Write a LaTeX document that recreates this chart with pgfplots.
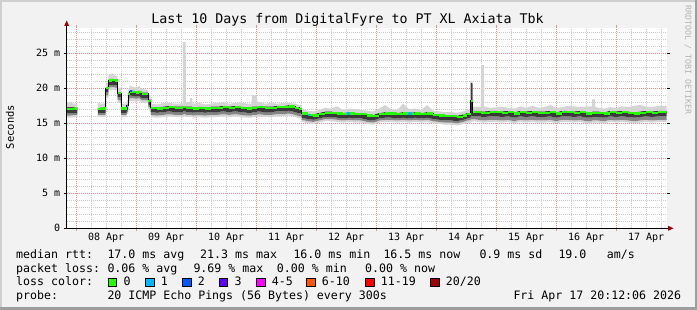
\documentclass[border=0pt]{standalone}
\usepackage{pgfplots}
\pgfplotsset{compat=1.18}
\usepackage{pgfplotstable}
\usepackage{fontspec}
\setmainfont{DejaVu Sans Mono}
\setmonofont{DejaVu Sans Mono}
\definecolor{bg}{HTML}{F2F2F2}
\definecolor{shadea}{HTML}{CFCFCF}
\definecolor{shadeb}{HTML}{9E9E9E}
\definecolor{mgrid}{HTML}{E89090}
\definecolor{ngrid}{HTML}{CCCCCC}
\definecolor{arrowred}{HTML}{A00000}
\definecolor{smokeL}{HTML}{D4D4D4}
\definecolor{smokeM}{HTML}{858585}
\definecolor{smokeD}{HTML}{3A3A3A}
\definecolor{loss0}{HTML}{26FF00}
\definecolor{loss1}{HTML}{00B8FF}
\definecolor{loss2}{HTML}{0059FF}
\definecolor{loss3}{HTML}{5E00FF}
\definecolor{loss4}{HTML}{FF00FF}
\definecolor{loss6}{HTML}{FF5500}
\definecolor{loss11}{HTML}{FF0000}
\definecolor{loss20}{HTML}{A10000}
\definecolor{wmark}{HTML}{B4B4B4}

\pgfdeclarelayer{picbg}
\pgfdeclarelayer{axis background}
\pgfdeclarelayer{axis grid}
\pgfdeclarelayer{axis ticks}
\pgfdeclarelayer{axis lines}
\pgfdeclarelayer{axis tick labels}
\pgfdeclarelayer{pre main}
\pgfdeclarelayer{axis descriptions}
\pgfdeclarelayer{axis foreground}
\pgfplotsset{
  layers/mylayers/.define layer set={picbg,axis background,axis grid,axis ticks,axis lines,axis tick labels,pre main,main,axis descriptions,axis foreground}{},
}

% median (step values)
\pgfplotstableread{
d med
-0.158 17.0
-0.10 17.0
-0.04 17.1
0.018 17.1
}\medA

\pgfplotstableread{
d med
0.36 17.0
0.42 17.1
0.495 20.0
0.54 21.1
0.60 21.2
0.65 21.1
0.69 19.3
0.75 17.1
0.845 17.5
0.87 19.2
0.89 19.5
0.95 19.5
1.00 19.4
1.05 19.5
1.095 19.2
1.15 19.2
1.205 18.2
1.245 17.2
1.35 17.1
1.45 17.2
1.55 17.3
1.65 17.2
1.78 17.3
1.83 17.2
1.90 17.2
1.94 17.1
2.05 17.2
2.15 17.1
2.25 17.2
2.35 17.2
2.45 17.3
2.55 17.2
2.65 17.3
2.75 17.2
2.85 17.1
2.93 17.2
3.02 17.3
3.15 17.2
3.25 17.2
3.35 17.3
3.45 17.3
3.55 17.4
3.65 17.2
3.72 17.0
3.76 16.4
3.86 16.2
3.95 16.1
4.05 16.3
4.15 16.5
4.25 16.5
4.35 16.4
4.45 16.3
4.55 16.4
4.65 16.3
4.75 16.3
4.85 16.1
4.95 16.0
5.05 16.3
5.15 16.4
5.25 16.4
5.35 16.3
5.45 16.4
5.55 16.3
5.65 16.4
5.75 16.3
5.85 16.4
5.95 16.2
6.05 16.1
6.15 16.0
6.25 16.0
6.35 15.9
6.45 16.1
6.52 16.3
6.575 18.2
6.61 16.6
6.70 16.6
6.75 16.5
6.80 16.5
6.90 16.6
7.00 16.6
7.10 16.5
7.20 16.6
7.30 16.4
7.40 16.6
7.50 16.5
7.60 16.6
7.70 16.5
7.80 16.5
7.90 16.6
8.00 16.4
8.10 16.6
8.20 16.6
8.30 16.5
8.40 16.6
8.50 16.4
8.60 16.5
8.65 16.5
8.70 16.5
8.80 16.4
8.90 16.6
9.00 16.5
9.10 16.6
9.20 16.5
9.30 16.4
9.40 16.5
9.50 16.6
9.60 16.5
9.70 16.6
9.842 16.6
}\medB

% smoke bands: lo (bottom), q1, q2 (dark band start), up (dark band top), hi (top)
\pgfplotstableread{
d lo q1 q2 up hi
-0.158 15.8 16.1 16.4 17.3 17.9
-0.10 15.8 16.1 16.4 17.3 18.0
-0.04 15.9 16.2 16.4 17.3 17.8
0.018 15.9 16.2 16.4 17.3 17.8
}\smokeA

\pgfplotstableread{
d lo q1 q2 up hi
0.36 15.9 16.2 16.5 17.2 17.9
0.42 15.9 16.2 16.5 17.3 17.8
0.49 15.9 16.2 16.5 17.3 17.8
0.495 18.6 19.0 19.4 20.2 20.8
0.535 18.6 19.0 19.4 20.2 20.8
0.54 19.7 20.1 20.5 21.3 22.0
0.60 19.8 20.2 20.5 21.4 22.1
0.65 19.7 20.1 20.4 21.3 21.8
0.685 19.7 20.1 20.4 21.3 21.8
0.69 17.9 18.3 18.7 19.5 20.1
0.745 17.9 18.3 18.7 19.5 20.1
0.75 15.9 16.2 16.5 17.3 17.8
0.84 15.9 16.2 16.5 17.3 17.8
0.845 16.3 16.6 16.9 17.7 18.3
0.865 16.3 16.6 16.9 17.7 18.3
0.87 17.8 18.2 18.6 19.4 20.0
0.885 17.8 18.2 18.6 19.4 20.0
0.89 18.2 18.6 19.0 19.7 20.4
0.95 18.2 18.6 18.9 19.7 20.2
1.00 18.1 18.5 18.8 19.6 20.1
1.05 18.2 18.6 18.9 19.7 20.3
1.095 17.9 18.3 18.6 19.4 19.9
1.15 17.9 18.3 18.6 19.4 19.8
1.20 17.9 18.3 18.6 19.4 19.8
1.205 17.0 17.3 17.6 18.4 19.0
1.24 17.0 17.3 17.6 18.4 19.0
1.245 15.9 16.2 16.6 17.4 17.8
1.35 15.8 16.1 16.5 17.3 17.7
1.45 15.9 16.2 16.6 17.4 17.9
1.55 16.0 16.3 16.7 17.5 17.9
1.65 15.9 16.2 16.6 17.4 17.8
1.775 15.9 16.2 16.6 17.4 17.8
1.78 16.0 16.3 16.7 17.5 26.6
1.825 16.0 16.3 16.7 17.5 26.6
1.83 15.9 16.2 16.6 17.4 18.0
1.895 15.9 16.2 16.6 17.4 18.0
1.90 15.9 16.2 16.6 17.4 18.6
1.935 15.9 16.2 16.6 17.4 18.6
1.94 15.8 16.1 16.5 17.3 17.8
2.05 15.9 16.2 16.6 17.4 17.9
2.15 15.8 16.1 16.5 17.3 17.7
2.25 15.9 16.2 16.6 17.4 17.8
2.35 15.9 16.2 16.6 17.4 17.9
2.45 16.0 16.3 16.7 17.5 18.0
2.55 15.9 16.2 16.6 17.4 17.8
2.65 16.0 16.3 16.7 17.5 17.9
2.75 15.9 16.2 16.6 17.4 18.0
2.85 15.8 16.1 16.5 17.3 17.8
2.925 15.8 16.1 16.5 17.3 17.8
2.93 15.9 16.2 16.6 17.4 19.0
3.015 15.9 16.2 16.6 17.4 19.0
3.02 16.0 16.3 16.7 17.5 18.1
3.15 15.9 16.2 16.6 17.4 17.8
3.25 15.9 16.2 16.6 17.4 17.9
3.35 16.0 16.3 16.7 17.5 17.8
3.45 16.0 16.3 16.7 17.5 17.9
3.55 16.1 16.4 16.8 17.6 17.9
3.65 15.9 16.2 16.6 17.4 17.8
3.72 15.7 16.0 16.4 17.2 17.6
3.755 15.7 16.0 16.4 17.2 17.6
3.76 15.2 15.5 15.8 16.6 17.0
3.86 15.0 15.3 15.6 16.4 16.8
3.95 14.9 15.2 15.5 16.3 16.7
4.05 15.1 15.4 15.7 16.5 16.9
4.15 15.3 15.6 15.9 16.7 17.2
4.25 15.3 15.6 15.9 16.7 17.1
4.35 15.2 15.5 15.8 16.6 17.4
4.45 15.1 15.4 15.7 16.5 16.9
4.55 15.2 15.5 15.8 16.6 17.1
4.65 15.1 15.4 15.7 16.5 17.0
4.75 15.1 15.4 15.7 16.5 16.9
4.85 14.9 15.2 15.5 16.3 16.8
4.95 14.8 15.1 15.4 16.2 16.7
5.05 15.1 15.4 15.7 16.5 17.1
5.15 15.2 15.5 15.8 16.6 17.6
5.25 15.2 15.5 15.8 16.6 17.0
5.35 15.1 15.4 15.7 16.5 16.9
5.45 15.2 15.5 15.8 16.6 17.8
5.55 15.1 15.4 15.7 16.5 17.0
5.65 15.2 15.5 15.8 16.6 17.1
5.75 15.1 15.4 15.7 16.5 16.9
5.85 15.2 15.5 15.8 16.6 17.6
5.95 15.0 15.3 15.6 16.4 16.8
6.05 14.9 15.2 15.5 16.3 16.7
6.15 14.8 15.1 15.4 16.2 16.6
6.25 14.8 15.1 15.4 16.2 16.6
6.35 14.7 15.0 15.3 16.1 16.5
6.45 14.9 15.2 15.5 16.3 16.7
6.52 15.1 15.4 15.7 16.5 16.9
6.57 15.1 15.4 15.7 16.5 16.9
6.575 15.2 15.6 16.0 20.8 21.0
6.605 15.2 15.6 16.0 20.8 21.0
6.61 15.3 15.6 16.0 16.8 17.4
6.70 15.2 15.5 16.0 16.8 17.3
6.745 15.2 15.5 16.0 16.8 17.3
6.75 15.1 15.4 15.9 16.7 23.3
6.795 15.1 15.4 15.9 16.7 23.3
6.80 15.1 15.4 15.9 16.7 17.4
6.90 15.2 15.5 16.0 16.8 17.2
7.00 15.2 15.5 16.0 16.8 17.3
7.10 15.1 15.4 15.9 16.7 17.4
7.20 15.2 15.5 16.0 16.8 17.2
7.30 15.0 15.3 15.8 16.6 17.1
7.40 15.2 15.5 16.0 16.8 17.4
7.50 15.1 15.4 15.9 16.7 17.2
7.60 15.2 15.5 16.0 16.8 17.5
7.70 15.1 15.4 15.9 16.7 17.2
7.80 15.1 15.4 15.9 16.7 17.3
7.90 15.2 15.5 16.0 16.8 17.6
8.00 15.0 15.3 15.8 16.6 17.2
8.10 15.2 15.5 16.0 16.8 17.3
8.20 15.2 15.5 16.0 16.8 17.5
8.30 15.1 15.4 15.9 16.7 17.4
8.40 15.2 15.5 16.0 16.8 17.3
8.50 15.0 15.3 15.8 16.6 17.4
8.595 15.0 15.3 15.8 16.6 17.4
8.60 15.1 15.4 15.9 16.7 18.4
8.645 15.1 15.4 15.9 16.7 18.4
8.65 15.1 15.4 15.9 16.7 17.4
8.70 15.1 15.4 15.9 16.7 17.2
8.80 15.0 15.3 15.8 16.6 17.1
8.90 15.2 15.5 16.0 16.8 17.3
9.00 15.1 15.4 15.9 16.7 17.2
9.10 15.2 15.5 16.0 16.8 17.4
9.20 15.1 15.4 15.9 16.7 17.3
9.30 15.0 15.3 15.8 16.6 17.5
9.40 15.1 15.4 15.9 16.7 17.6
9.50 15.2 15.5 16.0 16.8 17.4
9.60 15.1 15.4 15.9 16.7 17.3
9.70 15.2 15.5 16.0 16.8 17.5
9.842 15.2 15.5 16.0 16.8 17.5
}\smokeB

\newcommand\lgf{\fontsize{11.6pt}{13pt}\selectfont}

\begin{document}
\begin{tikzpicture}
\pgfsetlayers{picbg,axis background,axis grid,axis ticks,axis lines,axis tick labels,pre main,main,axis descriptions,axis foreground}
\begin{pgfonlayer}{picbg}
\fill[bg] (0pt,0pt) rectangle (697pt,310pt);
\fill[shadea] (0pt,0pt) rectangle (2pt,310pt);
\fill[shadea] (0pt,308pt) rectangle (697pt,310pt);
\fill[shadeb] (0pt,0pt) rectangle (697pt,2.5pt);
\fill[shadeb] (694.5pt,0pt) rectangle (697pt,310pt);
\end{pgfonlayer}

\begin{axis}[
  set layers=mylayers,
  at={(66.7pt,81.7pt)}, anchor=south west,
  scale only axis, width=600pt, height=200pt,
  xmin=-0.158, xmax=9.842, ymin=0, ymax=28.571,
  axis background/.style={fill=white},
  axis line style={draw=none},
  xtick={0,1,2,3,4,5,6,7,8,9}, xticklabels={},
  minor xtick={0.25,0.5,0.75,1.25,1.5,1.75,2.25,2.5,2.75,3.25,3.5,3.75,4.25,4.5,4.75,5.25,5.5,5.75,6.25,6.5,6.75,7.25,7.5,7.75,8.25,8.5,8.75,9.25,9.5,9.75},
  ytick={0,5,10,15,20,25}, yticklabels={0,5 m,10 m,15 m,20 m,25 m},
  minor ytick={1,2,3,4,6,7,8,9,11,12,13,14,16,17,18,19,21,22,23,24,26,27,28},
  grid=both,
  major grid style={draw=mgrid, line width=0.8pt, dash pattern=on 1pt off 1pt},
  minor grid style={draw=ngrid, line width=0.8pt, dash pattern=on 1pt off 1pt},
  tick align=outside, major tick length=3pt, minor tick length=0pt,
  xtick style={draw=mgrid, line width=0.8pt},
  ytick style={draw=black, line width=0.8pt},
  extra x ticks={0.5,1.5,2.5,3.5,4.5,5.5,6.5,7.5,8.5,9.5},
  extra x tick labels={08 Apr,09 Apr,10 Apr,11 Apr,12 Apr,13 Apr,14 Apr,15 Apr,16 Apr,17 Apr},
  extra x tick style={grid=none, major tick length=0pt, xticklabel style={yshift=-1.5pt}},
  ticklabel style={font=\fontsize{10pt}{12pt}\selectfont, text=black},
]
% smoke as stacked bands (main block)
\addplot[stack plots=y, draw=none, forget plot] table[x=d,y=lo]{\smokeB};
\addplot[stack plots=y, fill=smokeL, draw=none] table[x=d,y expr=\thisrow{q1}-\thisrow{lo}]{\smokeB} \closedcycle;
\addplot[stack plots=y, fill=smokeM, draw=none] table[x=d,y expr=\thisrow{q2}-\thisrow{q1}]{\smokeB} \closedcycle;
\addplot[stack plots=y, fill=smokeD, draw=none] table[x=d,y expr=\thisrow{up}-\thisrow{q2}]{\smokeB} \closedcycle;
\addplot[stack plots=y, fill=smokeL, draw=none] table[x=d,y expr=\thisrow{hi}-\thisrow{up}]{\smokeB} \closedcycle;
% median
\addplot[black, line width=0.8pt, const plot mark left] table[x=d,y=med]{\medB};
\addplot[loss0, line width=2.4pt, jump mark left] table[x=d,y=med]{\medB};
\addplot[loss1, line width=2.4pt] coordinates {(0.845,17.5) (0.87,17.5)};
\addplot[loss2, line width=2.4pt] coordinates {(0.905,19.6) (0.935,19.6)};
\addplot[loss1, line width=2.4pt] coordinates {(3.86,16.2) (3.9,16.2)};
\addplot[loss1, line width=2.4pt] coordinates {(4.51,16.4) (4.56,16.4)};
\addplot[loss1, line width=2.4pt] coordinates {(5.53,16.4) (5.60,16.4)};
\end{axis}

% first short block, in an overlaid axis of the same geometry
\begin{axis}[
  at={(66.7pt,81.7pt)}, anchor=south west,
  scale only axis, width=600pt, height=200pt,
  xmin=-0.158, xmax=9.842, ymin=0, ymax=28.571,
  hide axis,
]
\addplot[stack plots=y, draw=none, forget plot] table[x=d,y=lo]{\smokeA};
\addplot[stack plots=y, fill=smokeL, draw=none] table[x=d,y expr=\thisrow{q1}-\thisrow{lo}]{\smokeA} \closedcycle;
\addplot[stack plots=y, fill=smokeM, draw=none] table[x=d,y expr=\thisrow{q2}-\thisrow{q1}]{\smokeA} \closedcycle;
\addplot[stack plots=y, fill=smokeD, draw=none] table[x=d,y expr=\thisrow{up}-\thisrow{q2}]{\smokeA} \closedcycle;
\addplot[stack plots=y, fill=smokeL, draw=none] table[x=d,y expr=\thisrow{hi}-\thisrow{up}]{\smokeA} \closedcycle;
\addplot[black, line width=0.8pt, const plot mark left] table[x=d,y=med]{\medA};
\addplot[loss0, line width=2.4pt, jump mark left] table[x=d,y=med]{\medA};
\end{axis}

% axis lines with arrows
\draw[black, line width=1pt] (66.7pt,81.7pt) -- (669pt,81.7pt);
\fill[arrowred] (668pt,84.2pt) -- (668pt,79.2pt) -- (673.5pt,81.7pt) -- cycle;
\draw[black, line width=1pt] (66.7pt,81.7pt) -- (66.7pt,285pt);
\fill[arrowred] (64.2pt,284pt) -- (69.2pt,284pt) -- (66.7pt,289.5pt) -- cycle;

% title and labels
\node[anchor=base, inner sep=0pt, font=\fontsize{13.3pt}{15pt}\selectfont] at (347.5pt,286pt) {Last 10 Days from DigitalFyre to PT XL Axiata Tbk};
\node[rotate=90, inner sep=0pt, font=\fontsize{10.5pt}{12pt}\selectfont] at (10pt,183pt) {Seconds};
\node[rotate=-90, inner sep=0pt, text=wmark, font=\fontsize{8.3pt}{10pt}\selectfont] at (688pt,250pt) {RRDTOOL / TOBI OETIKER};

% legend rows
\begin{scope}[every node/.style={anchor=base west, inner sep=0pt, font=\lgf}]
\node at (16pt,51.5pt) {median rtt:};
\node at (107.3pt,51.5pt) {17.0 ms avg};
\node at (200pt,51.5pt) {21.3 ms max};
\node at (293.3pt,51.5pt) {16.0 ms min};
\node at (383.3pt,51.5pt) {16.5 ms now};
\node at (479.3pt,51.5pt) {0.9 ms sd};
\node at (558.3pt,51.5pt) {19.0};
\node at (606.7pt,51.5pt) {am/s};
\node at (16pt,37.8pt) {packet loss:};
\node at (107.3pt,37.8pt) {0.06 \% avg};
\node at (193.3pt,37.8pt) {9.69 \% max};
\node at (276.7pt,37.8pt) {0.00 \% min};
\node at (365pt,37.8pt) {0.00 \% now};
\node at (16pt,24pt) {loss color:};
\node at (123.3pt,24pt) {0};
\node at (160.7pt,24pt) {1};
\node at (197.7pt,24pt) {2};
\node at (234.3pt,24pt) {3};
\node at (271.7pt,24pt) {4-5};
\node at (321.7pt,24pt) {6-10};
\node at (380.7pt,24pt) {11-19};
\node at (445.7pt,24pt) {20/20};
\node at (16pt,10pt) {probe:};
\node at (107.3pt,10pt) {20 ICMP Echo Pings (56 Bytes) every 300s};
\node at (513.3pt,10pt) {Fri Apr 17 20:12:06 2026};
\end{scope}
\begin{scope}[line width=0.8pt]
\filldraw[fill=loss0, draw=black] (108.3pt,23.3pt) rectangle ++(8.3pt,8.3pt);
\filldraw[fill=loss1, draw=black] (145.7pt,23.3pt) rectangle ++(8.3pt,8.3pt);
\filldraw[fill=loss2, draw=black] (182.7pt,23.3pt) rectangle ++(8.3pt,8.3pt);
\filldraw[fill=loss3, draw=black] (219.3pt,23.3pt) rectangle ++(8.3pt,8.3pt);
\filldraw[fill=loss4, draw=black] (256.7pt,23.3pt) rectangle ++(8.3pt,8.3pt);
\filldraw[fill=loss6, draw=black] (306.7pt,23.3pt) rectangle ++(8.3pt,8.3pt);
\filldraw[fill=loss11, draw=black] (365.7pt,23.3pt) rectangle ++(8.3pt,8.3pt);
\filldraw[fill=loss20, draw=black] (430.7pt,23.3pt) rectangle ++(8.3pt,8.3pt);
\end{scope}
\end{tikzpicture}
\end{document}
